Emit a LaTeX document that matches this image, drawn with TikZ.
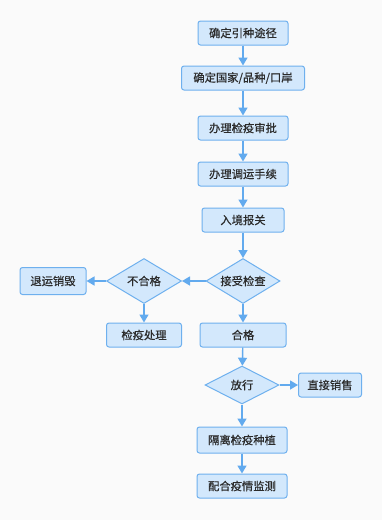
\documentclass[tikz,border=0pt]{standalone}
\usepackage{fontspec}
\newfontfamily\cjk[FakeBold=0.6]{Noto Sans CJK SC}
\usetikzlibrary{arrows.meta, positioning, shapes.geometric}
\definecolor{cfill}{HTML}{D3E8FC}
\definecolor{cline}{HTML}{6EB0EE}
\definecolor{carrow}{HTML}{62AAEE}
\definecolor{cback}{HTML}{FAFAFA}
\definecolor{ctext}{HTML}{2B2B2B}
\tikzset{
  every picture/.style={font=\cjk\fontsize{11.3}{13}\selectfont, line width=1pt},
  stepbox/.style={draw=cline, fill=cfill, rounded corners=2.5pt, text=ctext, minimum height=24pt, inner sep=2pt},
  choice/.style={diamond, draw=cline, fill=cfill, text=ctext, aspect=1.65, inner sep=1pt, minimum width=74pt, minimum height=45pt},
  arrow/.style={-{Triangle[length=8pt, width=9pt]}, draw=carrow, line width=1.4pt},
}
\begin{document}
\begin{tikzpicture}[x=1pt, y=-1pt]
  \fill[cback] (0,0) rectangle (382,520);
  \useasboundingbox (0,0) rectangle (382,520);
  % main line
  \node[stepbox, minimum width=90pt] (route) at (243,33) {确定引种途径};
  \node[stepbox, minimum width=123pt] (origin) at (243,78) {确定国家/品种/口岸};
  \node[stepbox, minimum width=90pt] (permit) at (243,128) {办理检疫审批};
  \node[stepbox, minimum width=90pt] (transport) at (243,174) {办理调运手续};
  \node[stepbox, minimum width=82pt] (declare) at (243,220) {入境报关};
  \node[choice] (inspect) at (243,281) {接受检查};
  \node[stepbox, minimum width=86pt] (pass) at (243,335) {合格};
  \node[choice, minimum height=38pt] (release) at (242,385) {放行};
  \node[stepbox, minimum width=90pt, minimum height=26pt] (isolate) at (242,440) {隔离检疫种植};
  \node[stepbox, minimum width=90pt] (monitor) at (242,486) {配合疫情监测};
  % side branches
  \node[choice, minimum width=75pt] (fail) at (144,281) {不合格};
  \node[stepbox, minimum width=66pt, minimum height=27pt] (destroy) at (53,281) {退运销毁};
  \node[stepbox, minimum width=75pt] (treat) at (144,335) {检疫处理};
  \node[stepbox, minimum width=63pt] (sell) at (330,385) {直接销售};
  % arrows
  \draw[arrow] (route) -- (origin);
  \draw[arrow] (origin) -- (permit);
  \draw[arrow] (permit) -- (transport);
  \draw[arrow] (transport) -- (declare);
  \draw[arrow] (declare) -- (inspect);
  \draw[arrow] (inspect) -- (pass);
  \draw[arrow] (pass) -- (release);
  \draw[arrow] (release) -- (isolate);
  \draw[arrow] (isolate) -- (monitor);
  \draw[arrow] (inspect) -- (fail);
  \draw[arrow] (fail) -- (destroy);
  \draw[arrow] (fail) -- (treat);
  \draw[arrow] (release) -- (sell);
\end{tikzpicture}
\end{document}
